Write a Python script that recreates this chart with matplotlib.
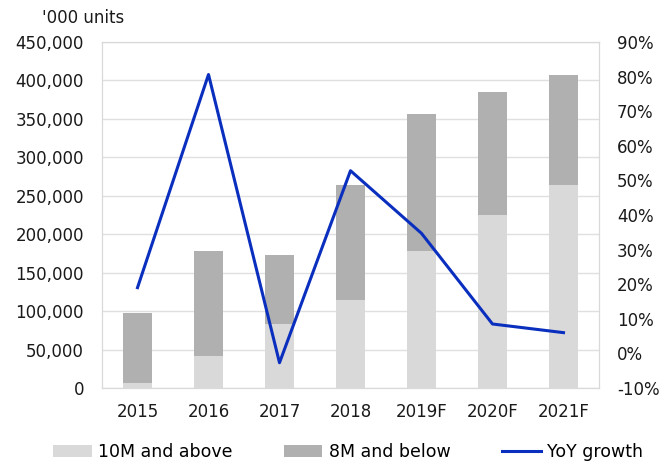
import numpy as np
import matplotlib.pyplot as plt
from matplotlib.ticker import FuncFormatter, MultipleLocator

years = ['2015', '2016', '2017', '2018', '2019F', '2020F', '2021F']
above_10m = [6000, 41500, 83500, 115000, 178500, 225000, 263500]
below_8m = [92000, 137000, 89000, 149000, 177500, 160000, 143500]
yoy_growth = [19.0, 80.6, -2.7, 52.8, 34.7, 8.5, 6.0]

plt.rcParams['font.family'] = ['DejaVu Sans']

fig = plt.figure(figsize=(6.72, 4.66), dpi=100)
ax = fig.add_axes([102 / 672, 78 / 466, 497 / 672, 346 / 466])
ax2 = ax.twinx()

x = np.arange(len(years))
b1 = ax.bar(x, above_10m, width=0.4, color='#d9d9d9', label='10M and above', zorder=2)
b2 = ax.bar(x, below_8m, width=0.4, bottom=above_10m, color='#b0b0b0',
            label='8M and below', zorder=2)
ln, = ax2.plot(x, yoy_growth, color='#0a2fbf', lw=2.2, label='YoY growth')

ax.set_xlim(-0.5, 6.5)
ax.set_ylim(0, 450000)
ax.yaxis.set_major_locator(MultipleLocator(50000))
ax.yaxis.set_major_formatter(FuncFormatter(lambda v, p: f'{int(v):,}'))
ax2.set_ylim(-10, 90)
ax2.yaxis.set_major_locator(MultipleLocator(10))
ax2.yaxis.set_major_formatter(FuncFormatter(lambda v, p: f'{int(round(v))}%'))

ax.set_xticks(x)
ax.set_xticklabels(years)
ax.grid(axis='y', color='#e0e0e0', lw=1, zorder=0)
ax.set_axisbelow(True)
for a in (ax, ax2):
    for s in a.spines.values():
        s.set_color('#d9d9d9')
    a.tick_params(length=0, labelsize=12, colors='#1a1a1a')
ax.tick_params(axis='x', pad=11)
ax.tick_params(axis='y', pad=13)
ax2.tick_params(axis='y', pad=13)

fig.text(42 / 672, 1 - 18 / 466, "'000 units", fontsize=12, va='center', color='#1a1a1a')

fig.legend(handles=[b1, b2, ln], loc='center', bbox_to_anchor=(348 / 672, 1 - 452 / 466),
           ncol=3, frameon=False, fontsize=12.5, handlelength=2.2, columnspacing=3.0,
           handletextpad=0.35)

plt.savefig('out.png')
